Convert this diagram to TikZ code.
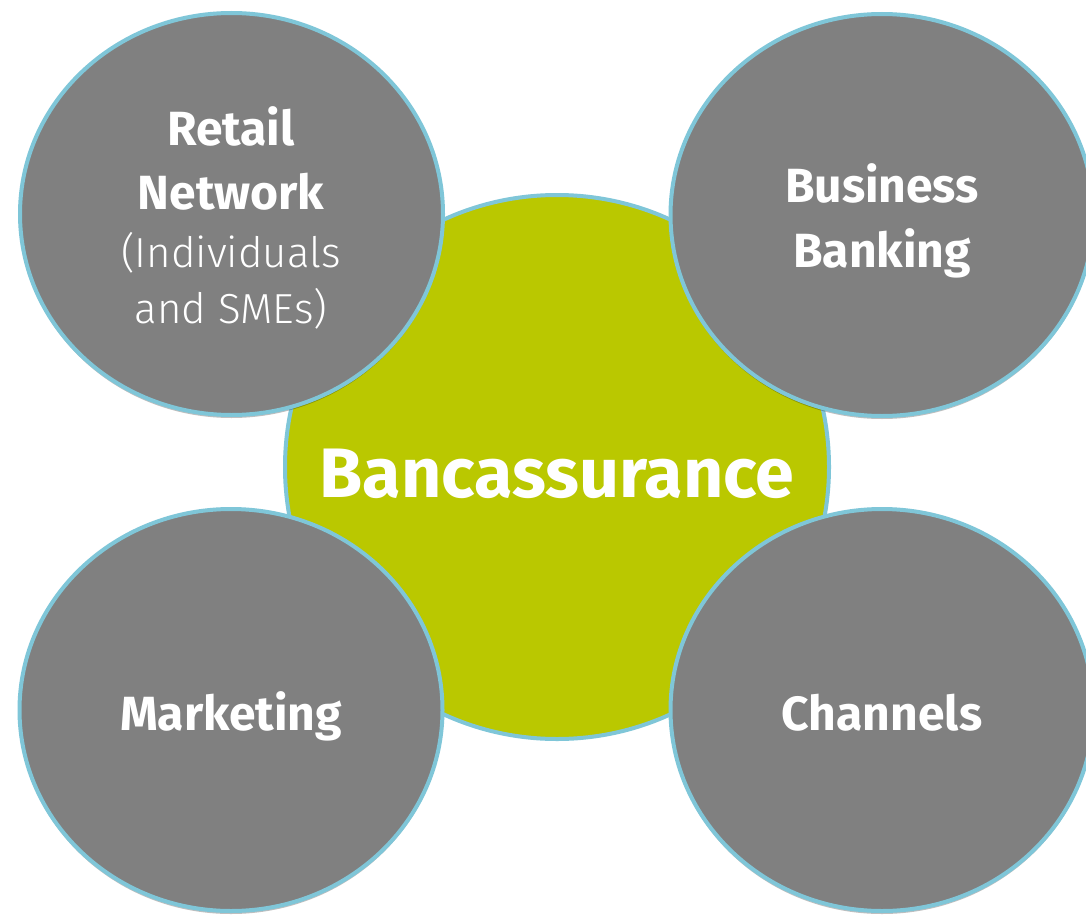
\documentclass[tikz,border=0pt]{standalone}
\usepackage{fontspec}
\setmainfont{Fira Sans}
\newfontfamily\lightfont{Fira Sans Light}
\usetikzlibrary{shadows,shapes.geometric}
\definecolor{ringblue}{RGB}{127,198,216}
\definecolor{hubgreen}{RGB}{186,200,0}
\definecolor{spokegray}{RGB}{128,128,128}
\begin{document}
\begin{tikzpicture}[x=0.5pt,y=-0.5pt,
  hub/.style={circle, fill=hubgreen, draw=ringblue, line width=2pt, minimum size=272pt, inner sep=0pt},
  spoke/.style={ellipse, fill=spokegray, draw=ringblue, line width=2pt, minimum width=211.5pt, minimum height=201pt, inner sep=0pt,
    drop shadow={opacity=0.25, fill=black, shadow xshift=0pt, shadow yshift=-1.5pt}},
  boldtxt/.style={anchor=base, text=white, font=\fontsize{24}{29}\selectfont\bfseries},
  lighttxt/.style={anchor=base, text=white, font=\fontsize{21}{26}\selectfont\lightfont},
  hubtxt/.style={anchor=base, text=white, font=\fontsize{35}{41}\selectfont\bfseries}]
\useasboundingbox (0,0) rectangle (1086,915);
\fill[white] (0,0) rectangle (1086,915);
\node[hub] (hub) at (557,467) {};
\node[spoke] (retail) at (231.5,214) {};
\node[spoke] (business) at (882,215) {};
\node[spoke] (marketing) at (231,710) {};
\node[spoke] (channels) at (882,710) {};
\node[hubtxt] (hubt) at (557,497) {Bancassurance};
\node[boldtxt] (rt1) at (231,145) {Retail};
\node[boldtxt] (rt2) at (231,209) {Network};
\node[lighttxt] (rt3) at (231,267) {(Individuals};
\node[lighttxt] (rt4) at (231,323) {and SMEs)};
\node[boldtxt] (bt1) at (882,202) {Business};
\node[boldtxt] (bt2) at (882,267) {Banking};
\node[boldtxt] (mt) at (231,730) {Marketing};
\node[boldtxt] (ct) at (882,730) {Channels};
\end{tikzpicture}
\end{document}
